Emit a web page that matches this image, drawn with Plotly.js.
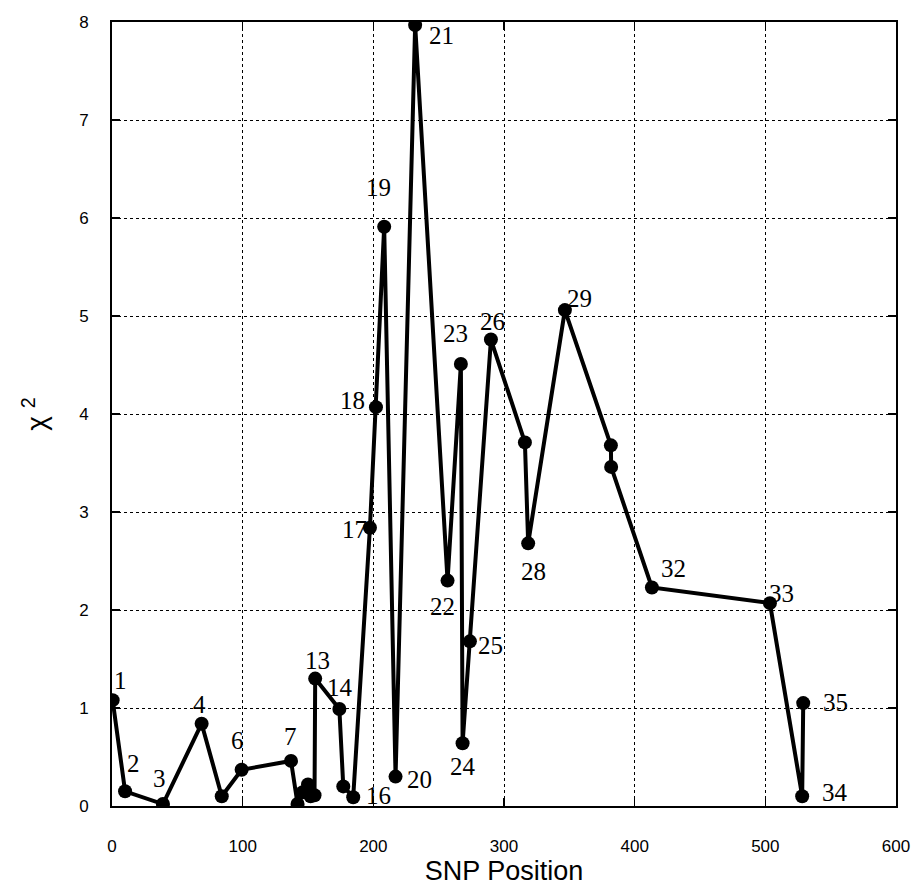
<!DOCTYPE html>
<html>
<head>
<meta charset="utf-8">
<script src="https://cdn.plot.ly/plotly-3.0.1.min.js"></script>
<style>html,body{margin:0;padding:0;background:#fff;}#chart{width:914px;height:890px;}</style>
</head>
<body>
<div id="chart"></div>
<script>
// SNP index labels
var snpIds = [1,2,3,4,5,6,7,8,9,10,11,12,13,14,15,16,17,18,19,20,21,22,23,24,25,26,27,28,29,30,31,32,33,34,35];
// SNP positions
var positions = [0.5,10,39,68.6,84,99.2,137,142,146,150,152,155,155.5,174,177,184.6,197.4,202,208.3,217,232,256.8,267,268.3,273.9,290,316,318.5,346.6,381.8,382,413.2,503.5,528.2,529];
// chi-square values
var chi2 = [1.08,0.15,0.02,0.84,0.10,0.37,0.46,0.02,0.14,0.22,0.10,0.11,1.30,0.99,0.20,0.09,2.84,4.07,5.91,0.30,7.97,2.30,4.51,0.64,1.68,4.76,3.71,2.68,5.06,3.68,3.46,2.23,2.07,0.10,1.05];
// which SNPs carry a printed label
var labelledIds = [1,2,3,4,6,7,13,14,16,17,18,19,20,21,22,23,24,25,26,28,29,32,33,34,35];
var xTickVals = [0,100,200,300,400,500,600];
var yTickVals = [0,1,2,3,4,5,6,7,8];

// label offsets (px) -- style only
var labelShift = {
  1:[8,20], 2:[8,28], 3:[-3,26], 4:[-2,19], 6:[-4,29], 7:[-1,24],
  13:[2,18], 14:[1,21], 16:[25,2], 17:[-15,-2], 18:[-23,7], 19:[-6,39],
  20:[24,-3], 21:[26,-11], 22:[-5,-26], 23:[-5,31], 24:[0,-23], 25:[21,-4],
  26:[2,18], 28:[5,-28], 29:[15,12], 32:[22,19], 33:[12,10], 34:[33,4], 35:[32,1]
};

var annotations = labelledIds.map(function(id){
  var i = snpIds.indexOf(id);
  var s = labelShift[id] || [0,15];
  return {
    x: positions[i], y: chi2[i], xref:'x', yref:'y',
    text: String(id), showarrow:false,
    xshift: s[0], yshift: s[1],
    font:{family:'Liberation Serif, Times New Roman, serif', size:25, color:'#000'}
  };
});

var trace = {
  x: positions, y: chi2, type:'scatter', mode:'lines+markers',
  line:{color:'#000', width:4},
  marker:{color:'#000', size:14, symbol:'circle'},
  hoverinfo:'x+y'
};

var axisCommon = {
  showline:true, linecolor:'#000', linewidth:2, mirror:'ticks',
  ticks:'inside', ticklen:8, tickwidth:1.5, tickcolor:'#000',
  showgrid:true, gridcolor:'#000', gridwidth:1, griddash:'dot',
  zeroline:false,
  tickfont:{family:'Liberation Sans, Arial, sans-serif', size:17, color:'#000'}
};

var layout = {
  width:914, height:890,
  margin:{l:112, r:18, t:22, b:84},
  paper_bgcolor:'#fff', plot_bgcolor:'#fff',
  showlegend:false,
  xaxis: Object.assign({}, axisCommon, {
    range:[0,600], tickvals:xTickVals, ticktext:xTickVals.map(String),
    ticklabelstandoff: 24,
    title:{text:'SNP Position', standoff:5, font:{family:'Liberation Sans, Arial, sans-serif', size:27, color:'#000'}}
  }),
  yaxis: Object.assign({}, axisCommon, {
    range:[0,8], tickvals:yTickVals, ticktext:yTickVals.map(String),
    ticklabelstandoff: 18,
    title:{text:'χ <sup>2</sup>', standoff:24, font:{family:'Liberation Sans, Arial, sans-serif', size:28, color:'#000'}}
  }),
  annotations: annotations
};

Plotly.newPlot('chart', [trace], layout, {displayModeBar:false, staticPlot:true});
</script>
</body>
</html>
